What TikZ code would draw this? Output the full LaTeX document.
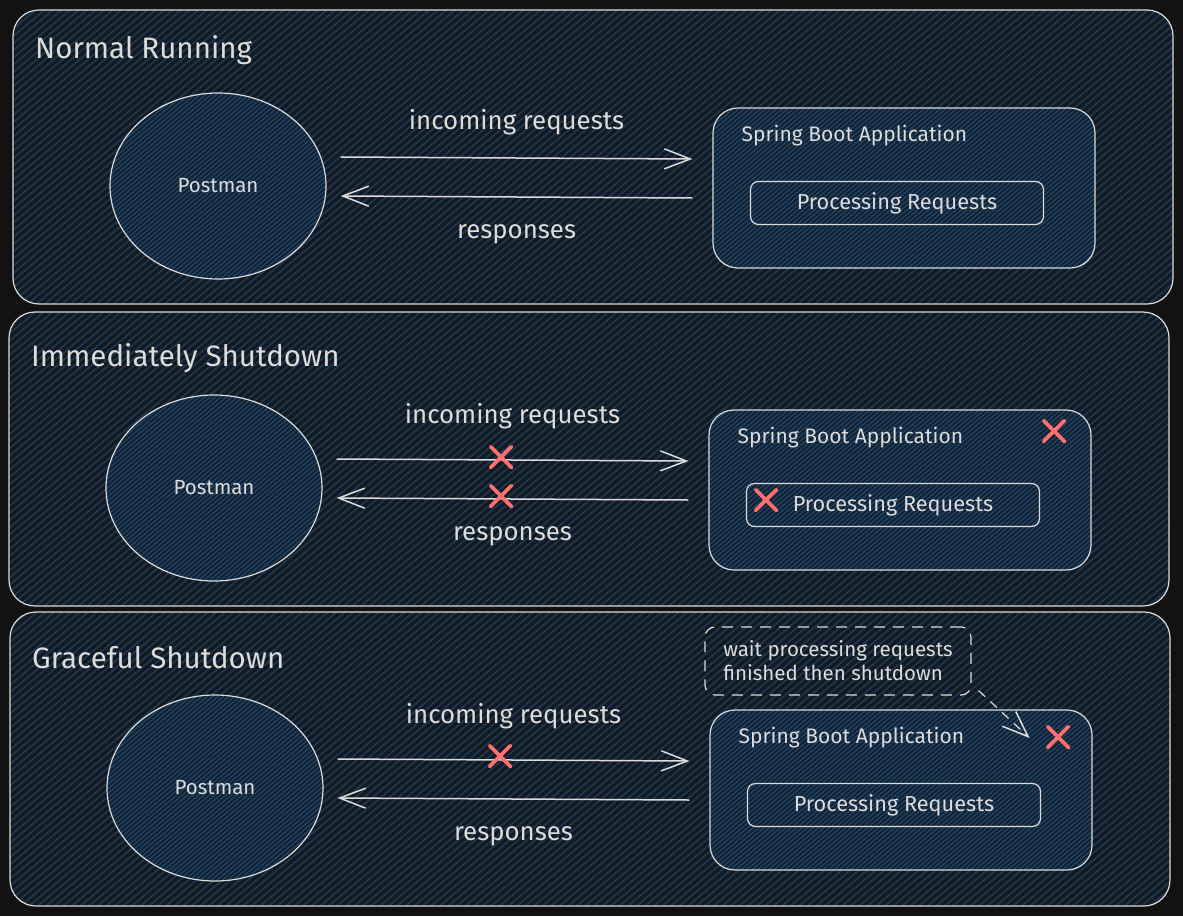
\documentclass[tikz,border=0pt]{standalone}
\usepackage{fontspec}
\setmainfont{Fira Sans}
\usetikzlibrary{arrows.meta}
\usetikzlibrary{positioning}
\usetikzlibrary{shapes.geometric}
\usetikzlibrary{shapes.misc}
\usetikzlibrary{patterns.meta}
\definecolor{bgdark}{HTML}{121212}
\definecolor{panelbase}{HTML}{13191F}
\definecolor{panelhatch}{HTML}{1B3752}
\definecolor{boxbase}{HTML}{13202D}
\definecolor{boxhatch}{HTML}{1E4468}
\definecolor{ink}{HTML}{DCDCDC}
\definecolor{xred}{HTML}{FF6F6F}
\tikzset{panel/.style = {draw=ink, line width=1.2pt, rounded corners=26pt,
                         minimum width=1160pt, minimum height=294pt,
                         preaction={fill=panelbase},
                         pattern={Lines[angle=40, distance=5.5pt, line width=1.8pt]},
                         pattern color=panelhatch}}
\tikzset{hatched/.style = {draw=ink, line width=1.2pt,
                           preaction={fill=boxbase},
                           pattern={Lines[angle=40, distance=3.5pt, line width=1.4pt]},
                           pattern color=boxhatch, text=ink}}
\tikzset{client/.style = {hatched, ellipse, minimum width=216pt, minimum height=186pt,
                          font=\fontsize{20.5}{24}\selectfont}}
\tikzset{appbox/.style = {hatched, rounded corners=25pt, minimum width=382pt, minimum height=160pt}}
\tikzset{procbox/.style = {hatched, rounded corners=8pt, minimum width=293pt, minimum height=43pt,
                           font=\fontsize{21.7}{26}\selectfont}}
\tikzset{title/.style = {text=ink, inner sep=0, font=\fontsize{29.5}{34}\selectfont}}
\tikzset{apptitle/.style = {text=ink, inner sep=0, font=\fontsize{21}{25}\selectfont}}
\tikzset{flowlabel/.style = {text=ink, inner sep=0, font=\fontsize{25.8}{30}\selectfont}}
\tikzset{flow/.style = {draw=ink, line width=1.5pt,
                        -{Straight Barb[length=26pt, width=20pt, line width=1.5pt]}}}
\tikzset{xmark/.style = {cross out, draw=xred, line width=3.8pt, line cap=round,
                         minimum size=17pt, inner sep=0}}
\tikzset{note/.style = {draw=ink, line width=1.2pt, dash pattern=on 11pt off 8pt,
                        rounded corners=10pt, minimum width=266pt, minimum height=68pt,
                        align=left, text=ink, inner sep=0,
                        preaction={fill=panelbase},
                        pattern={Lines[angle=40, distance=5.5pt, line width=1.8pt]},
                        pattern color=panelhatch,
                        font=\fontsize{20.5}{24}\selectfont}}

\begin{document}
\begin{tikzpicture}[x=1pt, y=-1pt]
      \fill [bgdark] (0, 0) rectangle (1183, 916);
      \useasboundingbox (0, 0) rectangle (1183, 916);

      \foreach \i/\dx/\dy/\ty/\gap/\ttl in {1/0/0/50/22/Normal Running,
                                            2/-4/302/56/30/Immediately Shutdown,
                                            3/-3/602/56/30/Graceful Shutdown} {
        \node [panel] (panel\i) at (593+\dx, 157+\dy) {};
        \node [title, anchor=west] at (35+\dx, \ty+\dy) {\ttl};
        \node [client] (post\i) at (218+\dx, 186+\dy) {Postman};
        \node [appbox] (app\i) at (904+\dx, 188+\dy) {};
        \node [apptitle, right=29pt of app\i.north west, yshift=-28pt] {Spring Boot Application};
        \node [procbox] (proc\i) at (897+\dx, 203+\dy) {Processing Requests};
        \draw [flow] ([xshift=14pt, yshift=29pt]post\i.east)
          -- node [flowlabel, above=\gap pt] {incoming requests}
          ([xshift=-20pt, yshift=29pt]app\i.west);
        \draw [flow] ([xshift=-20pt, yshift=-10pt]app\i.west)
          -- node [flowlabel, below=27pt] {responses}
          ([xshift=14pt, yshift=-10pt]post\i.east);
      }

      % immediately shutdown
      \node [xmark] (xin2) at (501, 457) {};
      \node [xmark] (xout2) at (501, 496) {};
      \node [xmark] (xapp2) at (1054, 431) {};
      \node [xmark] (xproc2) at (766, 500) {};

      % graceful shutdown
      \node [xmark] (xin3) at (500, 756) {};
      \node [xmark] (xapp3) at (1058, 737) {};
      \node [note] (wait) at (838, 661) {wait processing requests\\finished then shutdown};
      \draw [flow, dash pattern=on 9pt off 7pt, line width=1.2pt]
        ([xshift=7pt, yshift=5pt]wait.south east) -- ([xshift=-18pt, yshift=-1pt]xapp3.west);
    \end{tikzpicture}
\end{document}
